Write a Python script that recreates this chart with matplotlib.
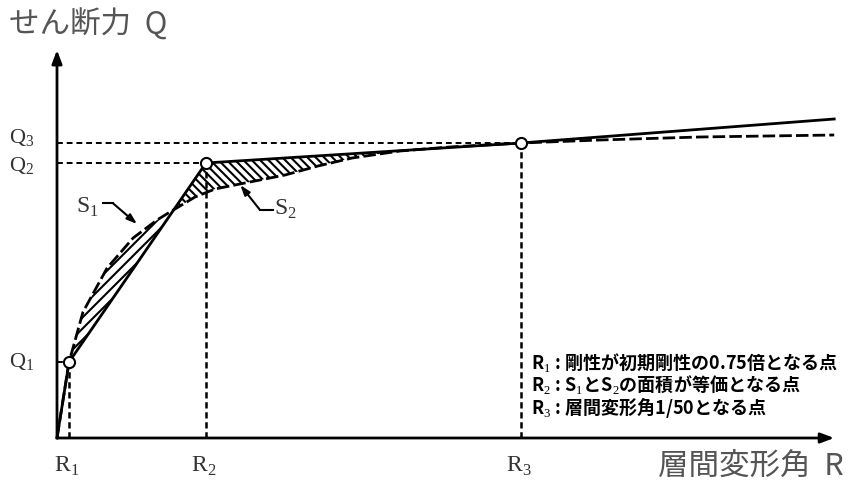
import numpy as np
import matplotlib.pyplot as plt

plt.rcParams['font.family'] = ['Noto Sans CJK JP', 'DejaVu Sans']
plt.rcParams['mathtext.fontset'] = 'custom'
plt.rcParams['mathtext.rm'] = 'Liberation Serif'
plt.rcParams['hatch.linewidth'] = 1.5

# R in 1/1000 rad, Q in arbitrary force units
R_pts = [0.52, 6.42, 20.0]      # R1, R2, R3
Q_pts = [76, 275, 295]          # Q1, Q2, Q3
R_labels = ['R$_1$', 'R$_2$', 'R$_3$']
Q_labels = ['Q$_1$', 'Q$_2$', 'Q$_3$']

# tri-linear model (solid)
model_R = [0, 0.52, 6.42, 20.0, 33.5]
model_Q = [0, 76, 275, 295, 319]

# skeleton curve (dashed)
curve_R = [0, 0.52, 1.12, 2.16, 3.28, 4.31, 4.87, 5.95, 6.81, 8.10, 9.83,
           11.25, 12.72, 14.78, 16.94, 20.0, 23.4, 27.7, 33.5]
curve_Q = [0, 76, 126, 170, 200, 218, 226, 241, 249, 255, 263,
           272, 280, 287, 291, 295, 298, 301, 303]

notes = ['R$_1$ : 剛性が初期剛性の0.75倍となる点',
         'R$_2$ : S$_1$とS$_2$の面積が等価となる点',
         'R$_3$ : 層間変形角1/50となる点']

fig = plt.figure(figsize=(8.48, 4.93), dpi=100)
ax = fig.add_axes([0, 0, 1, 1])
ax.set_xlim(-2.457, 34.095)
ax.set_ylim(-55, 438)
ax.axis('off')

# axes with arrow heads
ax.annotate('', xy=(33.5, 0), xytext=(0, 0),
            arrowprops=dict(arrowstyle='-|>,head_length=0.8,head_width=0.3',
                            lw=2, color='k', shrinkA=0, shrinkB=0))
ax.annotate('', xy=(0, 388), xytext=(0, 0),
            arrowprops=dict(arrowstyle='-|>,head_length=0.8,head_width=0.3',
                            lw=2, color='k', shrinkA=0, shrinkB=0))

# hatched areas S1 and S2
xs = np.linspace(R_pts[0], R_pts[2], 800)
m = np.interp(xs, model_R, model_Q)
c = np.interp(xs, curve_R, curve_Q)
ax.fill_between(xs, m, c, where=(c >= m) & (xs < R_pts[1]), interpolate=True,
                facecolor='none', edgecolor='k', hatch='///', lw=0)
ax.fill_between(xs, c, m, where=(m >= c), interpolate=True,
                facecolor='none', edgecolor='k', hatch='\\\\\\\\', lw=0)

# guide lines
for r, q in zip(R_pts, Q_pts):
    ax.plot([0, r], [q, q], color='k', lw=1.4, ls=(0, (3, 2)))
    ax.plot([r, r], [0, q], color='k', lw=1.8, ls=(0, (2.5, 1.5)))

ax.plot(curve_R, curve_Q, color='k', lw=2, ls=(0, (4.5, 1.5)))
ax.plot(model_R, model_Q, color='k', lw=2)
ax.plot(R_pts, Q_pts, 'o', ms=8, mfc='white', mec='k', mew=1.5, zorder=5)

# tick-like labels
for r, lab in zip(R_pts, R_labels):
    ax.text(r - 0.1, -28, lab, fontsize=17, color='#333', ha='center', va='center',
            family='Liberation Serif')
# Q2 and Q3 sit close together, nudge them apart a little
for q, lab, dy in zip(Q_pts, Q_labels, [0, -3, 5]):
    ax.text(-2.05, q + dy, lab, fontsize=16, color='#333', ha='left', va='center',
            family='Liberation Serif')

# axis titles
ax.text(-2.05, 413, 'せん断力  Q', fontsize=22, color='#555', ha='left', va='center')
ax.text(33.9, -28, '層間変形角  R', fontsize=22, color='#555', ha='right', va='center')

# S1 / S2 leaders
ax.text(0.8, 231, 'S$_1$', fontsize=17, color='#333', ha='left', va='center',
        family='Liberation Serif')
ax.plot([1.98, 2.4], [235, 235], color='k', lw=1.5)
ax.annotate('', xy=(3.45, 214), xytext=(2.4, 235),
            arrowprops=dict(arrowstyle='-|>,head_length=0.6,head_width=0.2',
                            lw=1.5, color='k', shrinkA=0, shrinkB=0))
ax.text(9.35, 229, 'S$_2$', fontsize=17, color='#333', ha='left', va='center',
        family='Liberation Serif')
ax.plot([9.3, 8.75], [228, 228], color='k', lw=1.5)
ax.annotate('', xy=(7.9, 253), xytext=(8.75, 228),
            arrowprops=dict(arrowstyle='-|>,head_length=0.6,head_width=0.2',
                            lw=1.5, color='k', shrinkA=0, shrinkB=0))

# notes
for i, t in enumerate(notes):
    ax.text(20.45, 76 - 22.5 * i, t, fontsize=13, fontweight='bold', color='k',
            ha='left', va='center')

fig.savefig('out.png', dpi=100)
